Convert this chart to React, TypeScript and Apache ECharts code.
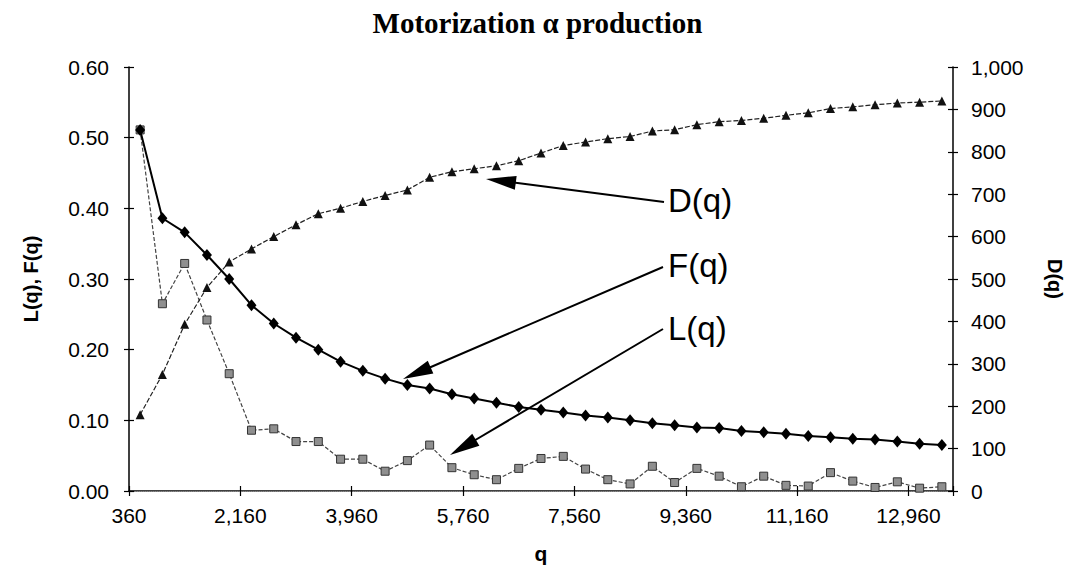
import React, { useEffect, useRef } from 'react';
import * as echarts from 'echarts';

// q categories (step 360)
const categories = [
  360, 720, 1080, 1440, 1800, 2160, 2520, 2880, 3240, 3600,
  3960, 4320, 4680, 5040, 5400, 5760, 6120, 6480, 6840, 7200,
  7560, 7920, 8280, 8640, 9000, 9360, 9720, 10080, 10440, 10800,
  11160, 11520, 11880, 12240, 12600, 12960, 13320,
];

// F(q) - left axis
const fValues = [
  0.511, 0.386, 0.366, 0.334, 0.300, 0.263, 0.237, 0.217, 0.200, 0.183,
  0.170, 0.159, 0.150, 0.145, 0.137, 0.131, 0.125, 0.119, 0.115, 0.111,
  0.107, 0.104, 0.100, 0.096, 0.093, 0.090, 0.089, 0.085, 0.083, 0.081,
  0.078, 0.076, 0.074, 0.073, 0.070, 0.067, 0.065,
];

// L(q) - left axis
const lValues = [
  0.511, 0.265, 0.322, 0.242, 0.166, 0.086, 0.088, 0.070, 0.070, 0.045,
  0.045, 0.028, 0.043, 0.065, 0.033, 0.023, 0.016, 0.032, 0.046, 0.049,
  0.031, 0.016, 0.010, 0.035, 0.012, 0.032, 0.021, 0.006, 0.021, 0.008,
  0.007, 0.026, 0.014, 0.005, 0.013, 0.004, 0.006,
];

// D(q) - right axis
const dValues = [
  180, 275, 393, 480, 540, 571, 600, 628, 654, 667,
  683, 697, 710, 740, 753, 760, 767, 779, 797, 815,
  823, 831, 836, 849, 852, 864, 871, 874, 879, 886,
  892, 902, 906, 911, 915, 917, 920,
];

const xTickLabels = ['360', '2,160', '3,960', '5,760', '7,560', '9,360', '11,160', '12,960'];

const seriesNames = ['F(q)', 'L(q)', 'D(q)'];

const SANS = "'Liberation Sans', Arial, sans-serif";
const SERIF = "'Liberation Serif', 'Times New Roman', serif";

function arrow(x1: number, y1: number, x2: number, y2: number) {
  const dx = x2 - x1;
  const dy = y2 - y1;
  const len = Math.sqrt(dx * dx + dy * dy);
  const ux = dx / len;
  const uy = dy / len;
  const headLen = 30;
  const half = 7;
  const bx = x2 - ux * headLen;
  const by = y2 - uy * headLen;
  const nx = -uy;
  const ny = ux;
  return [
    {
      type: 'line',
      shape: { x1, y1, x2: bx + ux * 4, y2: by + uy * 4 },
      style: { stroke: '#000', lineWidth: 2 },
    },
    {
      type: 'polygon',
      shape: {
        points: [
          [x2, y2],
          [bx + nx * half, by + ny * half],
          [bx - nx * half, by - ny * half],
        ],
      },
      style: { fill: '#000' },
    },
  ];
}

export default function App() {
  const ref = useRef<HTMLDivElement>(null);

  useEffect(() => {
    document.body.style.margin = '0';
    if (!ref.current) return;
    const chart = echarts.init(ref.current, null, { renderer: 'svg' });

    const labelStyle = { fontFamily: SANS, fontSize: 21, color: '#000' };

    const option: any = {
      animation: false,
      backgroundColor: '#fff',
      title: {
        text: 'Motorization \u03b1 production',
        left: 'center',
        top: 3,
        textStyle: { fontFamily: SERIF, fontWeight: 'bold', fontSize: 29, color: '#000' },
      },
      grid: {
        left: 129,
        right: 122,
        top: 67,
        bottom: 86,
        outerBoundsMode: 'none',
      },
      xAxis: [
        {
          type: 'category',
          data: categories,
          position: 'bottom',
          boundaryGap: true,
          axisLine: { show: true, lineStyle: { color: '#000', width: 1.5 } },
          axisTick: { show: true, interval: 4, inside: true, length: 5, lineStyle: { color: '#000', width: 1.2 } },
          axisLabel: { show: false },
          splitLine: { show: false },
        },
        {
          type: 'value',
          position: 'bottom',
          min: 0,
          max: categories.length,
          interval: 5,
          axisLine: { show: false },
          axisTick: { show: true, inside: false, length: 5, lineStyle: { color: '#000', width: 1.2 } },
          axisLabel: {
            ...labelStyle,
            margin: 14,
            formatter: (v: number) => (v % 5 === 0 && xTickLabels[v / 5] !== undefined ? xTickLabels[v / 5] : ''),
          },
          splitLine: { show: false },
          name: 'q',
          nameLocation: 'middle',
          nameGap: 52,
          nameTextStyle: { fontFamily: SANS, fontWeight: 'bold', fontSize: 21, color: '#000' },
        },
        {
          type: 'value',
          position: 'top',
          min: 0,
          max: 1,
          axisLine: { show: true, lineStyle: { color: '#888', width: 1, type: 'dotted' } },
          axisTick: { show: false },
          axisLabel: { show: false },
          splitLine: { show: false },
        },
      ],
      yAxis: [
        {
          type: 'value',
          position: 'left',
          min: 0,
          max: 0.6,
          interval: 0.1,
          axisLine: { show: true, lineStyle: { color: '#000', width: 1.5 } },
          axisTick: { show: true, inside: false, length: 5, lineStyle: { color: '#000', width: 1.2 } },
          axisLabel: { ...labelStyle, margin: 20, formatter: (v: number) => v.toFixed(2) },
          splitLine: { show: false },
          name: 'L(q), F(q)',
          nameLocation: 'middle',
          nameRotate: 90,
          nameGap: 88,
          nameTextStyle: { fontFamily: SANS, fontWeight: 'bold', fontSize: 20, color: '#000' },
        },
        {
          type: 'value',
          position: 'left',
          min: 0,
          max: 0.6,
          interval: 0.1,
          axisLine: { show: false },
          axisTick: { show: true, inside: true, length: 5, lineStyle: { color: '#000', width: 1.2 } },
          axisLabel: { show: false },
          splitLine: { show: false },
        },
        {
          type: 'value',
          position: 'right',
          min: 0,
          max: 1000,
          interval: 100,
          axisLine: { show: true, lineStyle: { color: '#000', width: 1.5 } },
          axisTick: { show: true, inside: false, length: 5, lineStyle: { color: '#000', width: 1.2 } },
          axisLabel: {
            ...labelStyle,
            margin: 18,
            formatter: (v: number) => v.toLocaleString('en-US'),
          },
          splitLine: { show: false },
          name: 'D(q)',
          nameLocation: 'middle',
          nameRotate: -90,
          nameGap: 92,
          nameTextStyle: { fontFamily: SANS, fontWeight: 'bold', fontSize: 20, color: '#000' },
        },
        {
          type: 'value',
          position: 'right',
          min: 0,
          max: 1000,
          interval: 100,
          axisLine: { show: false },
          axisTick: { show: true, inside: true, length: 5, lineStyle: { color: '#000', width: 1.2 } },
          axisLabel: { show: false },
          splitLine: { show: false },
        },
      ],
      series: [
        {
          name: seriesNames[0],
          type: 'line',
          xAxisIndex: 0,
          yAxisIndex: 0,
          data: fValues,
          symbol: 'diamond',
          symbolSize: [10, 12],
          itemStyle: { color: '#000' },
          lineStyle: { color: '#000', width: 2 },
          z: 4,
        },
        {
          name: seriesNames[1],
          type: 'line',
          xAxisIndex: 0,
          yAxisIndex: 0,
          data: lValues,
          symbol: 'rect',
          symbolSize: 8,
          itemStyle: { color: '#8f8f8f', borderColor: '#333', borderWidth: 1 },
          lineStyle: { color: '#444', width: 1.2, type: [4, 2] },
          z: 3,
        },
        {
          name: seriesNames[2],
          type: 'line',
          xAxisIndex: 0,
          yAxisIndex: 2,
          data: dValues,
          symbol: 'triangle',
          symbolSize: 9,
          itemStyle: { color: '#111' },
          lineStyle: { color: '#222', width: 1.2, type: [5, 2] },
          z: 3,
        },
      ],
      graphic: [
        { type: 'text', left: 668, top: 184, style: { text: 'D(q)', font: `33px ${SANS}`, fill: '#000' } },
        { type: 'text', left: 668, top: 249, style: { text: 'F(q)', font: `33px ${SANS}`, fill: '#000' } },
        { type: 'text', left: 668, top: 312, style: { text: 'L(q)', font: `33px ${SANS}`, fill: '#000' } },
        ...arrow(664, 202, 486, 179),
        ...arrow(663, 267, 403, 379),
        ...arrow(663, 329, 450, 455),
      ],
    };

    chart.setOption(option);
    return () => {
      chart.dispose();
    };
  }, []);

  return <div ref={ref} style={{ width: 1075, height: 577 }} />;
}
